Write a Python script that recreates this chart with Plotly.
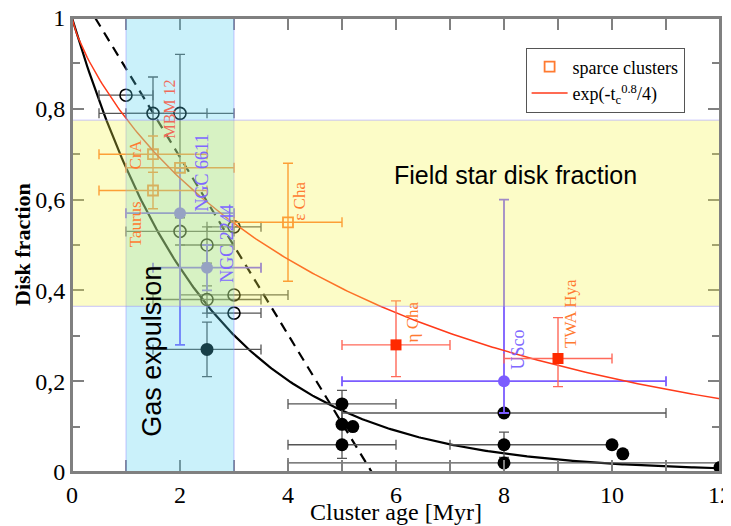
import numpy as np
import plotly.graph_objects as go

# ---------------- data ----------------
# open black circles (dense clusters)
oc_x = [1.0, 1.5, 2.0, 2.0, 2.5, 3.0, 2.5, 3.0, 3.0]
oc_y = [0.83, 0.79, 0.79, 0.53, 0.50, 0.54, 0.38, 0.39, 0.35]
oc_xerr = [0.5, 1.0, 1.0, 1.0, 0.5, 0.5, 1.0, 1.0, 0.5]
oc_yerr = [0.0, 0.08, 0.13, 0.03, 0.04, 0.0, 0.03, 0.0, 0.0]

# filled black circles
fc_x = [2.5, 5.0, 5.0, 5.2, 5.0, 8.0, 8.0, 8.0, 10.0, 10.2, 12.0]
fc_y = [0.27, 0.15, 0.105, 0.10, 0.06, 0.13, 0.06, 0.02, 0.06, 0.04, 0.01]
fc_xerr_plus = [1.0, 1.0, 0.0, 0.0, 1.0, 3.0, 2.0, 4.0, 0.0, 0.0, 0.0]
fc_xerr_minus = [1.0, 1.0, 0.0, 0.0, 1.0, 3.0, 1.0, 4.0, 0.0, 0.0, 0.0]
fc_yerr = [0.06, 0.0, 0.075, 0.0, 0.0, 0.0, 0.028, 0.0, 0.0, 0.0, 0.0]

# purple clusters
p_x = [2.0, 2.5, 8.0]
p_y = [0.57, 0.45, 0.20]
p_xerr = [1.0, 1.0, 3.0]
p_yerr_plus = [0.10, 0.05, 0.40]
p_yerr_minus = [0.29, 0.05, 0.07]
p_labels = ["NGC 6611", "NGC 2244", "USco"]
p_label_x = [2.41, 2.87, 8.26]
p_label_y = [0.66, 0.505, 0.27]

# sparce clusters (open orange squares)
o_x = [1.5, 1.5, 2.0, 4.0]
o_y = [0.70, 0.62, 0.67, 0.55]
o_xerr = [1.0, 1.0, 1.0, 1.0]
o_yerr = [0.04, 0.04, 0.0, 0.13]
o_labels = ["CrA", "Taurus", "MBM 12", "\u03b5 Cha"]
o_label_x = [1.17, 1.17, 1.81, 4.22]
o_label_y = [0.70, 0.546, 0.80, 0.597]

# filled red squares
r_x = [6.0, 9.0]
r_y = [0.28, 0.25]
r_xerr = [1.0, 1.0]
r_yerr_plus = [0.097, 0.09]
r_yerr_minus = [0.07, 0.062]
r_labels = ["\u03b7 Cha", "TWA Hya"]
r_label_x = [6.3, 9.22]
r_label_y = [0.33, 0.35]

# model curves
t_max = 12.0
red_exp, red_tau = 0.8, 4.0          # exp(-t^0.8/4)
black_tau = 2.5                      # exp(-t/2.5)
dashed_x = [0.43, 5.55]
dashed_y = [1.0, 0.0]

# shaded regions
gas_x = [1.0, 3.0]
field_y = [0.365, 0.775]

x_ticks = [0, 2, 4, 6, 8, 10, 12]
y_ticks = [0, 0.2, 0.4, 0.6, 0.8, 1]

# ---------------- figure ----------------
SERIF = "Liberation Serif"
SANS = "Liberation Sans"
ORANGE = "#ff7a30"
PURPLE = "#7b5cff"
RED = "#ff2a00"
GRAY = "#808080"

t = np.linspace(0, t_max, 300)
fig = go.Figure()

fig.add_trace(go.Scatter(x=t, y=np.exp(-t / black_tau), mode="lines",
                         line=dict(color="black", width=2.2), showlegend=False))
fig.add_trace(go.Scatter(x=dashed_x, y=dashed_y, mode="lines",
                         line=dict(color="black", width=2.2, dash="10px,7px"), showlegend=False))

# black open circles
fig.add_trace(go.Scatter(
    x=oc_x, y=oc_y, mode="markers",
    marker=dict(symbol="circle-open", size=12, color="black", line=dict(width=1.6)),
    error_x=dict(type="data", array=oc_xerr, color="#555555", thickness=1.3, width=5),
    error_y=dict(type="data", array=oc_yerr, color="#555555", thickness=1.3, width=5),
    showlegend=False))

# black filled circles
fig.add_trace(go.Scatter(
    x=fc_x, y=fc_y, mode="markers",
    marker=dict(symbol="circle", size=13, color="black"),
    error_x=dict(type="data", array=fc_xerr_plus, arrayminus=fc_xerr_minus,
                 color="#555555", thickness=1.3, width=5),
    error_y=dict(type="data", array=fc_yerr, color="#555555", thickness=1.3, width=5),
    showlegend=False))

# purple
fig.add_trace(go.Scatter(
    x=p_x, y=p_y, mode="markers",
    marker=dict(symbol="circle", size=12, color=PURPLE),
    error_x=dict(type="data", array=p_xerr, color=PURPLE, thickness=1.8, width=5),
    error_y=dict(type="data", array=p_yerr_plus, arrayminus=p_yerr_minus,
                 color=PURPLE, thickness=1.8, width=5),
    showlegend=False))

# orange open squares (sparce clusters)
fig.add_trace(go.Scatter(
    x=o_x, y=o_y, mode="markers",
    marker=dict(symbol="square-open", size=10, color=ORANGE, line=dict(width=1.8)),
    error_x=dict(type="data", array=o_xerr, color=ORANGE, thickness=1.4, width=5),
    error_y=dict(type="data", array=o_yerr, color=ORANGE, thickness=1.4, width=5),
    name="sparce clusters"))

# red model curve
fig.add_trace(go.Scatter(x=t, y=np.exp(-t ** red_exp / red_tau), mode="lines",
                         line=dict(color="#ff3a1a", width=1.5),
                         name="exp(-t<sub>c</sub><sup>0.8</sup>/4)"))

# red filled squares
fig.add_trace(go.Scatter(
    x=r_x, y=r_y, mode="markers",
    marker=dict(symbol="square", size=11, color=RED),
    error_x=dict(type="data", array=r_xerr, color="#ff6a5a", thickness=1.4, width=5),
    error_y=dict(type="data", array=r_yerr_plus, arrayminus=r_yerr_minus,
                 color="#ff6a5a", thickness=1.4, width=5),
    showlegend=False))

# invisible trace carrying the mirrored (top / right) axes
fig.add_trace(go.Scatter(x=[0], y=[0], xaxis="x2", yaxis="y2", mode="markers",
                         marker=dict(opacity=0), showlegend=False, hoverinfo="skip"))

# shaded regions (drawn over the data, translucent)
fig.add_shape(type="rect", xref="x", yref="y", x0=gas_x[0], x1=gas_x[1], y0=0, y1=1,
              fillcolor="rgba(80,210,240,0.30)", line=dict(color="rgba(150,140,255,0.5)", width=1),
              layer="above")
fig.add_shape(type="rect", xref="x", yref="y", x0=0, x1=t_max, y0=field_y[0], y1=field_y[1],
              fillcolor="rgba(245,245,70,0.30)", line=dict(color="rgba(150,140,255,0.5)", width=1),
              layer="above")
# frame
fig.add_shape(type="rect", xref="paper", yref="paper", x0=0, x1=1, y0=0, y1=1,
              line=dict(color=GRAY, width=2), fillcolor="rgba(0,0,0,0)", layer="above")

ann = []
for txt, x, y in zip(o_labels, o_label_x, o_label_y):
    col = "#f06a5a" if txt.startswith("MBM") else ORANGE
    size = 16 if txt.startswith("MBM") else 17
    ann.append(dict(x=x, y=y, text=txt, textangle=-90, showarrow=False,
                    font=dict(family=SERIF, size=size, color=col)))
for txt, x, y in zip(p_labels, p_label_x, p_label_y):
    ann.append(dict(x=x, y=y, text=txt, textangle=-90, showarrow=False,
                    font=dict(family=SERIF, size=18, color="#8068ff")))
for txt, x, y in zip(r_labels, r_label_x, r_label_y):
    ann.append(dict(x=x, y=y, text=txt, textangle=-90, showarrow=False,
                    font=dict(family=SERIF, size=17, color=ORANGE)))
ann.append(dict(x=8.22, y=0.654, text="Field star disk fraction", showarrow=False,
                font=dict(family=SANS, size=25, color="black")))
ann.append(dict(x=1.48, y=0.267, text="Gas expulsion", textangle=-90, showarrow=False,
                font=dict(family=SANS, size=27, color="black")))
# axis titles
ann.append(dict(x=0.5, y=0, xref="paper", yref="paper", yanchor="middle", yshift=-40,
                text="Cluster age [Myr]", showarrow=False,
                font=dict(family=SERIF, size=24, color="black")))
ann.append(dict(x=0, y=0.5, xref="paper", yref="paper", xanchor="center", xshift=-50,
                text="<b>Disk fraction</b>", textangle=-90, showarrow=False,
                font=dict(family=SERIF, size=22, color="black")))

axis_common = dict(ticks="inside", ticklen=12, tickwidth=1.5, tickcolor=GRAY,
                   showline=True, linecolor=GRAY, linewidth=2,
                   showgrid=False, zeroline=False, automargin=False)

# The page body has an 8px margin, so the figure margins are shifted accordingly.
fig.update_layout(
    width=731, height=526,
    margin=dict(l=64, r=19, t=10, b=62, autoexpand=False),
    paper_bgcolor="white", plot_bgcolor="white",
    separators=", ",
    annotations=ann,
    legend=dict(x=0.70, y=0.935, xanchor="left", yanchor="top",
                bgcolor="white", bordercolor="#555555", borderwidth=1,
                font=dict(family=SERIF, size=18, color="black"),
                itemwidth=36, tracegroupgap=0),
    xaxis=dict(range=[0, t_max], tickvals=x_ticks, ticklabeloverflow="allow",
               minor=dict(dtick=1, ticks="inside", ticklen=12, tickwidth=1.5, tickcolor=GRAY),
               tickfont=dict(family=SERIF, size=24, color="black"), **axis_common),
    yaxis=dict(range=[0, 1], tickvals=y_ticks, ticklabeloverflow="allow",
               minor=dict(dtick=0.1, ticks="inside", ticklen=8, tickwidth=1.5, tickcolor=GRAY),
               tickfont=dict(family=SERIF, size=24, color="black"), **axis_common),
    xaxis2=dict(range=[0, t_max], overlaying="x", side="top", anchor="y2",
                tickvals=x_ticks, showticklabels=False,
                minor=dict(dtick=1, ticks="inside", ticklen=12, tickwidth=1.5, tickcolor=GRAY),
                **axis_common),
    yaxis2=dict(range=[0, 1], overlaying="y", side="right", anchor="x2",
                tickvals=y_ticks, showticklabels=False,
                minor=dict(dtick=0.1, ticks="inside", ticklen=8, tickwidth=1.5, tickcolor=GRAY),
                **axis_common),
)

fig.write_html("out.html")
